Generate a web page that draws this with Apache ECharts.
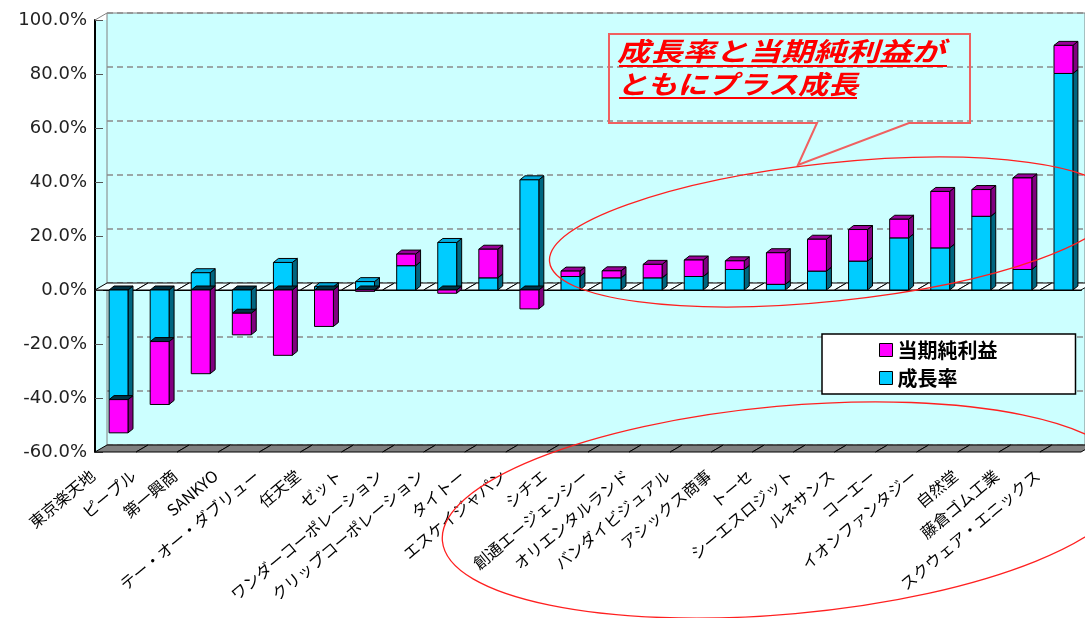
<!DOCTYPE html>
<html><head><meta charset="utf-8">
<script src="https://cdn.jsdelivr.net/npm/echarts@6/dist/echarts.min.js"></script>
<style>html,body{margin:0;padding:0;background:#fff}#c{width:1085px;height:618px}</style>
</head><body><div id="c"></div>
<script>
const categories = ['東京楽天地','ピープル','第一興商','SANKYO','テー・オー・ダブリュー','任天堂','ゼット','ワンダーコーポレーション','クリップコーポレーション','タイトー','エスケイジャパン','シチエ','創通エージェンシー','オリエンタルランド','バンダイビジュアル','アシックス商事','トーセ','シーエスロジット','ルネサンス','コーエー','イオンファンタジー','自然堂','藤倉ゴム工業','スクウェア・エニックス'];
const growth = [-40.6, -19.1, 6.4, -8.6, 10.2, 1.2, 3.1, 9.0, 17.6, 4.5, 40.8, 5.0, 4.5, 4.5, 5.0, 7.6, 2.1, 7.0, 10.7, 19.3, 15.6, 27.3, 7.6, 80.2];
const profit = [-12.3, -23.3, -31.0, -8.0, -24.2, -13.5, -0.5, 4.3, -1.2, 10.6, -7.0, 2.0, 2.6, 5.0, 6.1, 3.2, 11.7, 11.8, 11.7, 6.9, 20.9, 9.9, 33.9, 10.4];
const seriesNames = ['成長率', '当期純利益'];
const yMin = -60, yMax = 100, yStep = 20;
const noteLines = ['成長率と当期純利益が', 'ともにプラス成長'];

const CYAN = '#00CCFF', MAG = '#FF00FF';
const DX = 12, DY = -7; // wall depth
const BDX = 5, BDY = -4; // bar depth

function barRender(which) {
  return function (params, api) {
    const i = api.value(0);
    const g = growth[i], p = profit[i];
    let lo, hi;
    if (which === 'g') { lo = 0; hi = g; }
    else { const base = (Math.sign(p) === Math.sign(g)) ? g : 0; lo = base; hi = base + p; }
    const w = api.size([1, 0])[0] * 0.46;
    const c0 = api.coord([i, lo]), c1 = api.coord([i, hi]);
    const x = c0[0] - w / 2 + 3;
    const yT = Math.min(c0[1], c1[1]), yB = Math.max(c0[1], c1[1]);
    const front = which === 'g' ? CYAN : MAG;
    const side = which === 'g' ? '#006680' : '#800080';
    let topC = which === 'g' ? '#00AADD' : '#990099';
    if (hi < 0) topC = '#003344';
    const st = { stroke: '#000', lineWidth: 1 };
    return { type: 'group', children: [
      { type: 'polygon', shape: { points: [[x + w, yT], [x + w + BDX, yT + BDY], [x + w + BDX, yB + BDY], [x + w, yB]] }, style: Object.assign({ fill: side }, st) },
      { type: 'polygon', shape: { points: [[x, yT], [x + BDX, yT + BDY], [x + w + BDX, yT + BDY], [x + w, yT]] }, style: Object.assign({ fill: topC }, st) },
      { type: 'rect', shape: { x: x, y: yT, width: w, height: yB - yT }, style: Object.assign({ fill: front }, st) }
    ]};
  };
}

function planeRender(fill) {
  return function (params, api) {
    const i = api.value(0), v = api.value(1);
    const bw = api.size([1, 0])[0];
    const c = api.coord([i, v]);
    const L = c[0] - bw / 2, R = c[0] + bw / 2, y = c[1];
    return { type: 'polygon', shape: { points: [[L, y], [R, y], [R + DX, y + DY], [L + DX, y + DY]] },
      style: { fill: fill, stroke: '#000', lineWidth: 1 } };
  };
}

const chart = echarts.init(document.getElementById('c'), null, { renderer: 'canvas' });
const labelFont = '"Noto Sans CJK JP", sans-serif';
chart.setOption({
  animation: false,
  grid: [
    { left: 95, right: 4, top: 20, bottom: 166, show: true, backgroundColor: '#CCFFFF', borderWidth: 0 },
    { left: 107, right: -8, top: 13, bottom: 173, show: true, backgroundColor: '#CCFFFF', borderColor: '#808080', borderWidth: 1 }
  ],
  xAxis: [
    { type: 'category', gridIndex: 0, data: categories,
      axisLine: { show: true, lineStyle: { color: '#000', width: 2 } }, axisTick: { show: false },
      axisLabel: { interval: 0, rotate: 40, fontSize: 16, color: '#000', fontFamily: labelFont, margin: 2, padding: [0, 30, 0, 0] } },
    { type: 'category', gridIndex: 1, data: categories, show: false }
  ],
  yAxis: [
    { type: 'value', gridIndex: 0, min: yMin, max: yMax, interval: yStep,
      axisLine: { show: true, lineStyle: { color: '#000', width: 2 } },
      axisTick: { show: true, inside: true, length: 8, lineStyle: { color: '#555' } },
      splitLine: { show: false },
      axisLabel: { formatter: v => v.toFixed(1) + '%', fontSize: 18, color: '#222', fontFamily: '"DejaVu Sans", sans-serif', margin: 8 } },
    { type: 'value', gridIndex: 1, min: yMin, max: yMax, interval: yStep,
      axisLine: { show: false }, axisTick: { show: false }, axisLabel: { show: false },
      splitLine: { show: true, lineStyle: { color: '#8a8a8a', type: [6, 4], width: 1.5 } } }
  ],
  legend: {
    data: ['当期純利益', '成長率'], orient: 'vertical', left: 822, top: 334,
    backgroundColor: '#fff', borderColor: '#000', borderWidth: 1.5,
    padding: [6, 78, 6, 57], itemGap: 8, itemWidth: 13, itemHeight: 13, icon: 'rect',
    itemStyle: { borderColor: '#000', borderWidth: 1 },
    textStyle: { fontSize: 20, fontWeight: 'bold', color: '#000', fontFamily: labelFont }
  },
  series: [
    { type: 'custom', name: 'floor', silent: true, clip: false, xAxisIndex: 0, yAxisIndex: 0,
      data: categories.map((c, i) => [i, yMin]), renderItem: planeRender('#808080'), z: 1 },
    { type: 'custom', name: 'zero', silent: true, clip: false, xAxisIndex: 0, yAxisIndex: 0,
      data: categories.map((c, i) => [i, 0]), renderItem: planeRender('#F4FFFF'), z: 1 },
    { type: 'custom', name: seriesNames[0], clip: false, xAxisIndex: 0, yAxisIndex: 0,
      itemStyle: { color: CYAN }, data: growth.map((v, i) => [i, v]), renderItem: barRender('g'), z: 2 },
    { type: 'custom', name: seriesNames[1], clip: false, xAxisIndex: 0, yAxisIndex: 0,
      itemStyle: { color: MAG }, data: profit.map((v, i) => [i, v]), renderItem: barRender('p'), z: 3 }
  ],
  graphic: [
    { type: 'line', shape: { x1: 95, y1: 20, x2: 107, y2: 13 }, style: { stroke: '#808080', lineWidth: 1 }, z: 50 },
    { type: 'polygon', shape: { points: [[609, 34], [970, 34], [970, 123], [909, 123], [798, 165], [817, 123], [609, 123]] },
      style: { fill: 'none', stroke: '#F06060', lineWidth: 2 }, z: 100 },
    { type: 'text', x: 617, y: 38, scaleX: 1.26, style: { text: noteLines[0], fill: '#FF0000', fontSize: 26, fontWeight: 'bold', fontStyle: 'italic', fontFamily: labelFont, verticalAlign: 'top' }, z: 100 },
    { type: 'text', x: 617, y: 71, scaleX: 1.16, style: { text: noteLines[1], fill: '#FF0000', fontSize: 26, fontWeight: 'bold', fontStyle: 'italic', fontFamily: labelFont, verticalAlign: 'top' }, z: 100 },
    { type: 'line', shape: { x1: 619, y1: 66, x2: 947, y2: 66 }, style: { stroke: '#FF0000', lineWidth: 2 }, z: 100 },
    { type: 'line', shape: { x1: 619, y1: 98, x2: 857, y2: 98 }, style: { stroke: '#FF0000', lineWidth: 2 }, z: 100 },
    { type: 'ellipse', x: 833, y: 232, rotation: 0.105, shape: { cx: 0, cy: 0, rx: 285, ry: 69 }, style: { fill: 'none', stroke: '#FF2020', lineWidth: 1.3 }, z: 100 },
    { type: 'ellipse', x: 786, y: 510, rotation: 0.09, shape: { cx: 0, cy: 0, rx: 345, ry: 104 }, style: { fill: 'none', stroke: '#FF2020', lineWidth: 1.3 }, z: 100 }
  ]
});
</script></body></html>
